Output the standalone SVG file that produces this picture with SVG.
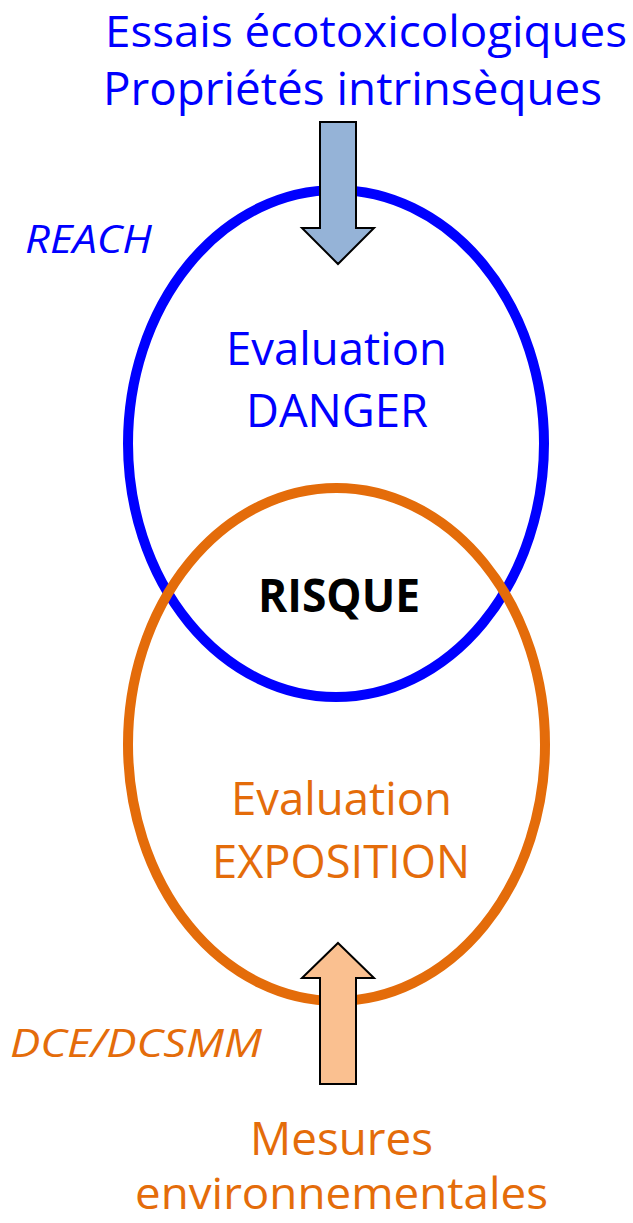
<svg xmlns="http://www.w3.org/2000/svg" width="633" height="1223" viewBox="0 0 633 1223">
  <style>
    text { font-family: "Open Sans", "Noto Sans", "DejaVu Sans", sans-serif; font-size: 46px; }
    .blue { fill: #0000FF; }
    .orange { fill: #E46C0A; }
    .edge { font-size: 44px; }
    .label { font-style: italic; font-size: 38px; }
    .risk { font-weight: bold; fill: #000000; font-size: 46px; }
    .ring { fill: none; stroke-width: 10; }
    .arrow { stroke: #000000; stroke-width: 2; stroke-linejoin: miter; }
  </style>
  <rect width="633" height="1223" fill="#FFFFFF"/>

  <!-- hazard ring -->
  <g id="danger">
    <ellipse class="ring" cx="336" cy="443.5" rx="208" ry="253.5" stroke="#0000FF"/>
    <text class="blue" x="226" y="365" textLength="221" lengthAdjust="spacingAndGlyphs">Evaluation</text>
    <text class="blue" x="246" y="427" textLength="182" lengthAdjust="spacingAndGlyphs">DANGER</text>
  </g>

  <!-- exposure ring -->
  <g id="exposition">
    <ellipse class="ring" cx="336.5" cy="744.5" rx="208.5" ry="256.5" stroke="#E46C0A"/>
    <text class="orange" x="231" y="815" textLength="221" lengthAdjust="spacingAndGlyphs">Evaluation</text>
    <text class="orange" x="212" y="878" textLength="258" lengthAdjust="spacingAndGlyphs">EXPOSITION</text>
  </g>

  <!-- overlap -->
  <g id="risque">
    <text class="risk" x="258" y="612" textLength="162" lengthAdjust="spacingAndGlyphs">RISQUE</text>
  </g>

  <!-- inputs -->
  <g id="essais">
    <text class="blue edge" x="105" y="47" textLength="522" lengthAdjust="spacingAndGlyphs">Essais écotoxicologiques</text>
    <text class="blue" x="103" y="105" textLength="499" lengthAdjust="spacingAndGlyphs">Propriétés intrinsèques</text>
  </g>
  <g id="reach">
    <text class="blue label" x="25" y="253" textLength="127" lengthAdjust="spacingAndGlyphs">REACH</text>
  </g>
  <g id="mesures">
    <text class="orange" x="250" y="1155" textLength="183" lengthAdjust="spacingAndGlyphs">Mesures</text>
    <text class="orange edge" x="135" y="1209" textLength="413" lengthAdjust="spacingAndGlyphs">environnementales</text>
  </g>
  <g id="dce">
    <text class="orange label" x="10" y="1057" textLength="252" lengthAdjust="spacingAndGlyphs">DCE/DCSMM</text>
  </g>

  <!-- block arrows -->
  <g id="connectors">
    <polygon class="arrow" fill="#95B3D7" points="320,122 356,122 356,228 374,228 338,264 302,228 320,228"/>
    <polygon class="arrow" fill="#FAC090" points="338,943 374,978 356,978 356,1084 320,1084 320,978 302,978"/>
  </g>
</svg>
